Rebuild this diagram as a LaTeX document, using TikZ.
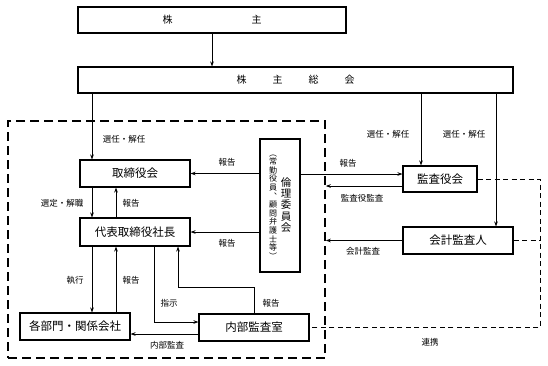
\documentclass[tikz,border=0pt]{standalone}
\usepackage{fontspec}
\setmainfont{Noto Sans CJK JP}
\usetikzlibrary{arrows.meta}

\begin{document}
\begin{tikzpicture}[x=1pt,y=-1pt,line width=0.8pt,>={Stealth[length=5pt,width=3.6pt]},
  box/.style={draw,line width=1.1pt,fill=white,inner sep=0pt,font=\fontsize{11.5}{13}\selectfont},
  lbl/.style={inner sep=0pt,font=\fontsize{8.5}{9}\selectfont},
  groupline/.style={draw,line width=1.6pt,dash pattern=on 9pt off 5pt},
  linkline/.style={line width=0.9pt,dash pattern=on 5pt off 3.5pt}]
\useasboundingbox (0,0) rectangle (548,365);
% company frame (thick dashed)
\node[groupline,minimum width=317pt,minimum height=237pt,inner sep=0pt] (grp) at (166.5,239.5) {};
% shareholders
\node[box,minimum width=268pt,minimum height=26pt,font=\fontsize{10}{12}\selectfont] (kabu) at (212,20) {株\hspace*{79pt}主};
\node[box,minimum width=435pt,minimum height=26pt,font=\fontsize{10}{12}\selectfont] (soukai) at (295.5,80) {株\hspace*{26pt}主\hspace*{26pt}総\hspace*{26pt}会};
% board and president
\node[box,minimum width=110pt,minimum height=27pt] (tori) at (135,173.5) {取締役会};
\node[box,minimum width=110pt,minimum height=28pt] (daihyo) at (135,232) {代表取締役社長};
\node[box,minimum width=110pt,minimum height=27pt] (kakubu) at (75,326.5) {各部門・関係会社};
\node[box,minimum width=110pt,minimum height=27pt] (naibu) at (254,327.5) {内部監査室};
% ethics committee (vertical text)
\node[box,minimum width=40pt,minimum height=133pt] (rinri) at (280,205.5) {};
\node[inner sep=0pt,align=center,font=\fontsize{10.5}{11.3}\selectfont] (rinriM) at (286,205) {倫\\理\\委\\員\\会};
\node[inner sep=0pt,align=center,font=\fontsize{8}{8.6}\selectfont] (rinriS) at (273,207) {︵\\常\\勤\\役\\員\\︑\\顧\\問\\弁\\護\\士\\等\\︶};
% auditors
\node[box,minimum width=74pt,minimum height=26pt] (kansa) at (440,179) {監査役会};
\node[box,minimum width=110pt,minimum height=27pt] (kaikei) at (458,240.5) {会計監査人};
\coordinate (linkR) at (540,179);

% connectors
\draw[->] (kabu.south) -- (kabu.south |- soukai.north);
\draw[->] ([xshift=-43pt]tori.north |- soukai.south) -- ([xshift=-43pt]tori.north);
\draw[->] ([xshift=-19pt]kansa.north |- soukai.south) -- ([xshift=-19pt]kansa.north);
\draw[->] ([xshift=38pt]kaikei.north |- soukai.south) -- ([xshift=38pt]kaikei.north);
\draw[->] ([xshift=-43pt]tori.south) -- ([xshift=-43pt]daihyo.north);
\draw[->] ([xshift=-19pt]daihyo.north) -- ([xshift=-19pt]tori.south);
\draw[->] ([xshift=-43pt]daihyo.south) -- ([xshift=-43pt]daihyo.south |- kakubu.north);
\draw[->] ([xshift=-19pt]daihyo.south |- kakubu.north) -- ([xshift=-19pt]daihyo.south);
\draw[->] ([xshift=19pt]daihyo.south) |- ([yshift=5.5pt]naibu.west);
\draw[->] (naibu.north) -- ++(0,-26) -| ([xshift=43pt]daihyo.south);
\draw[->] ([yshift=-6.5pt]naibu.west) -- ([yshift=-6.5pt]naibu.west -| kakubu.east);
\draw[->] (rinri.west |- tori.east) -- (tori.east);
\draw[->] (rinri.west |- daihyo.east) -- (daihyo.east);
\draw[->] ([yshift=5pt]kansa.west -| rinri.east) -- ([yshift=5pt]kansa.west);
\draw[->] ([yshift=-7pt]kansa.west) -- ([yshift=-7pt]kansa.west -| grp.east);
\draw[->] (kaikei.west) -- (kaikei.west -| grp.east);
% cooperation (thin dashed)
\draw[linkline] (kansa.east) -- (linkR) |- (naibu.east);
\draw[linkline] (kaikei.east) -- (kaikei.east -| linkR);

% labels
\node[lbl] (selA) at (124,139) {選任・解任};
\node[lbl] (selB) at (388,134) {選任・解任};
\node[lbl] (selC) at (464,134) {選任・解任};
\node[lbl] (sentei) at (62,203) {選定・解職};
\node[lbl] (rep1) at (131,203) {報告};
\node[lbl] (shikko) at (75,280) {執行};
\node[lbl] (rep2) at (131,280) {報告};
\node[lbl] (shiji) at (169,303) {指示};
\node[lbl] (rep3) at (271,303) {報告};
\node[lbl] (naikan) at (167,345) {内部監査};
\node[lbl] (rep4) at (227,162) {報告};
\node[lbl] (rep5) at (227,243) {報告};
\node[lbl] (rep6) at (348,163) {報告};
\node[lbl] (kkansa) at (362,198) {監査役監査};
\node[lbl] (kkaikei) at (363,251) {会計監査};
\node[lbl] (renkei) at (430,342) {連携};
\end{tikzpicture}
\end{document}
